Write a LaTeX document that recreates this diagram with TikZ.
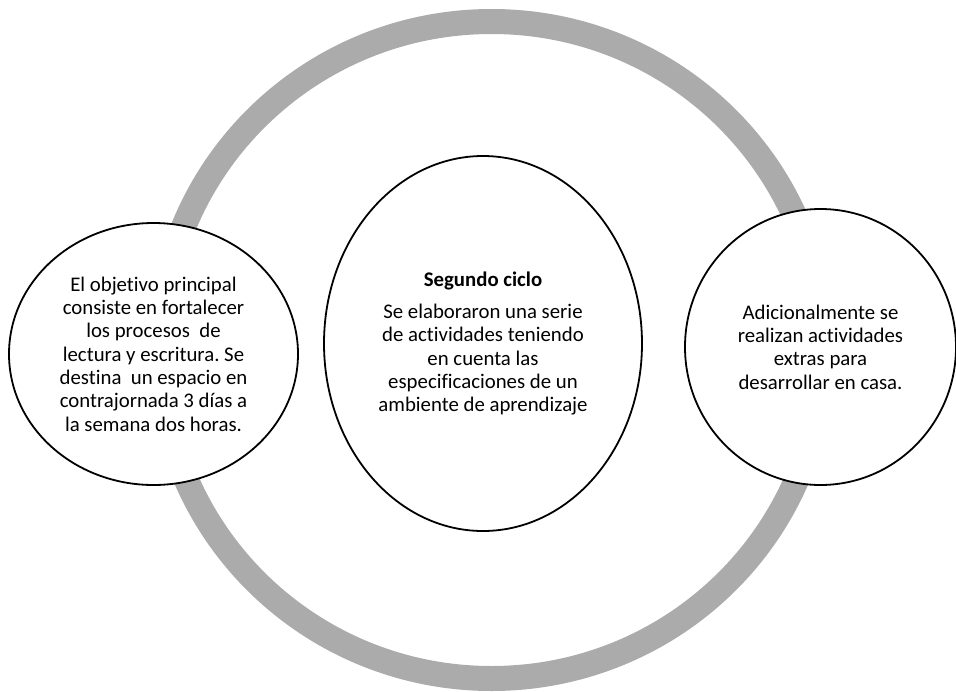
\documentclass[tikz,border=0pt]{standalone}
\usepackage{fontspec}
\setmainfont{Carlito}[Ligatures=NoCommon]
\usetikzlibrary{shapes.geometric}
\definecolor{ringgray}{RGB}{171,171,171}
\frenchspacing
\tikzset{
  bubble/.style={ellipse, draw=black, line width=1.8pt, fill=white, inner sep=0pt,
    align=center, font=\fontsize{20.8}{23.3}\selectfont},
  ring/.style={draw=ringgray, line width=25pt}
}
\begin{document}
\begin{tikzpicture}[x=1pt,y=-1pt]
\useasboundingbox (0,0) rectangle (956,691);
\draw[ring] (491.5,350) ellipse [x radius=332, y radius=328.5];
\node[bubble, minimum width=289pt, minimum height=262pt] (left) at (153.5,354)
  {El objetivo principal\\consiste en fortalecer\\los procesos\ \ de\\lectura y escritura. Se\\destina\ \ un espacio en\\contrajornada 3 días a\\la semana dos horas.};
\node[bubble, minimum width=318pt, minimum height=375pt] (mid) at (483,343.5)
  {\textbf{Segundo ciclo}\\[9pt]Se elaboraron una serie\\de actividades teniendo\\en cuenta las\\especificaciones de un\\ambiente de aprendizaje};
\node[bubble, minimum width=271pt, minimum height=276pt] (right) at (820.5,347)
  {Adicionalmente se\\realizan actividades\\extras para\\desarrollar en casa.};
\end{tikzpicture}
\end{document}
